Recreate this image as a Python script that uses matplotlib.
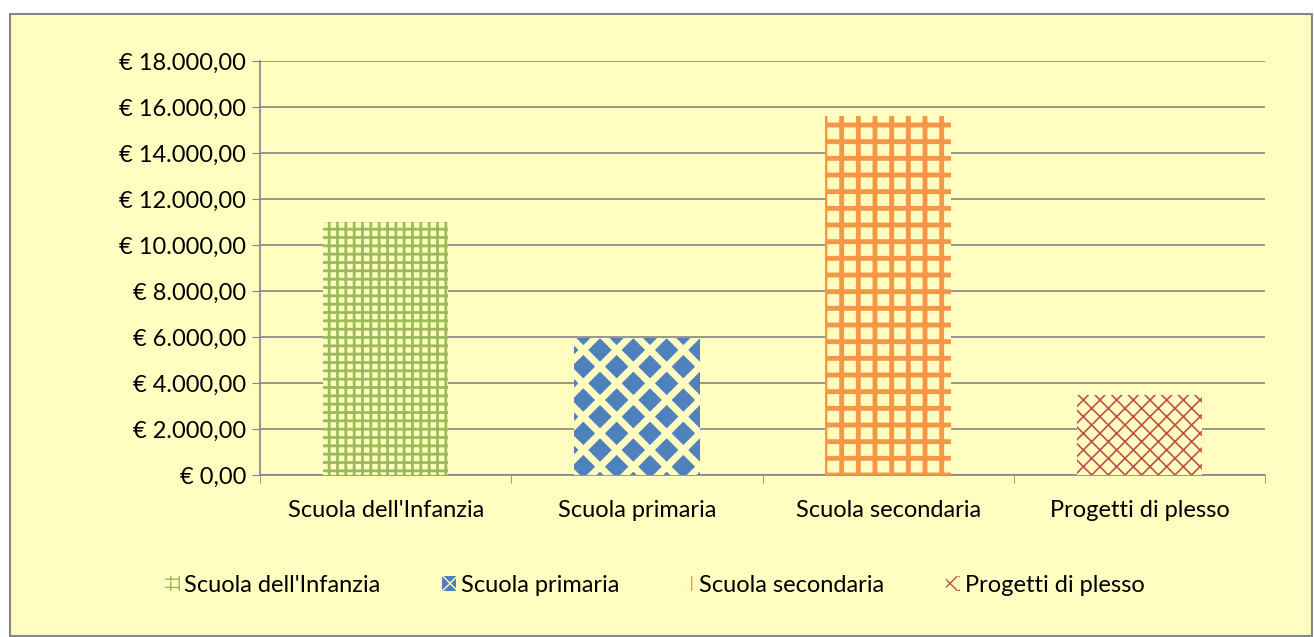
import matplotlib.pyplot as plt
from matplotlib.patches import Rectangle
from matplotlib.ticker import FuncFormatter, FixedLocator

categorie = ["Scuola dell'Infanzia", "Scuola primaria", "Scuola secondaria", "Progetti di plesso"]
importi = [11000, 5950, 15600, 3500]

sfondo = '#FFFDC0'
facce = [sfondo, '#4F81BD', sfondo, sfondo]
bordi = ['#9BBB59', sfondo, '#F79646', '#C0504D']
tratteggi = ['++', 'x', '+', 'xx']
spessori = [2.0, 5.0, 3.5, 1.2]

plt.rcParams['font.family'] = ['Lato', 'DejaVu Sans']
plt.rcParams['font.size'] = 17

fig = plt.figure(figsize=(13.14, 6.37), dpi=100)
fig.patch.set_facecolor('white')
# riquadro del grafico
fig.patches.append(Rectangle((10/1314, 1/637), 1302/1314, 622/637, transform=fig.transFigure,
                             facecolor=sfondo, edgecolor='#868686', lw=1.5, zorder=-1))

ax = fig.add_axes([260/1314, 1-475/637, 1005/1314, 414/637])
ax.patch.set_alpha(0)

x = range(len(categorie))
barre = ax.bar(x, importi, width=0.5, zorder=3)
for b, fc, ec, h, lw, lab in zip(barre, facce, bordi, tratteggi, spessori, categorie):
    b.set_facecolor(fc)
    b.set_edgecolor(ec)
    b.set_hatch(h)
    b.set_linewidth(0)
    b.set_label(lab)
    if hasattr(b, 'set_hatch_linewidth'):
        b.set_hatch_linewidth(lw)

ax.set_ylim(0, 18000)
ax.set_yticks(range(0, 18001, 2000))
ax.yaxis.set_major_formatter(FuncFormatter(
    lambda v, p: '€ ' + f'{v:,.2f}'.replace(',', 'X').replace('.', ',').replace('X', '.')))
ax.set_xlim(-0.5, 3.5)
ax.set_xticks(list(x))
ax.set_xticklabels(categorie)
ax.xaxis.set_minor_locator(FixedLocator([-0.5, 0.5, 1.5, 2.5, 3.5]))
ax.tick_params(axis='x', which='major', length=0, pad=18)
ax.tick_params(axis='x', which='minor', length=6, color='#868686')
ax.tick_params(axis='y', length=6, color='#868686', pad=4)
ax.grid(axis='y', color='#868686', lw=1.2, zorder=1)
for s in ['top', 'right']:
    ax.spines[s].set_visible(False)
for s in ['left', 'bottom']:
    ax.spines[s].set_color('#868686')
    ax.spines[s].set_linewidth(1.2)

fig.legend(handles=list(barre), loc='center', bbox_to_anchor=(655/1314, 1-585/637), ncol=4,
           frameon=False, handlelength=0.6, handleheight=0.6, handletextpad=0.2,
           columnspacing=2.6, fontsize=17)

fig.savefig('out.png', dpi=100, facecolor='white')
